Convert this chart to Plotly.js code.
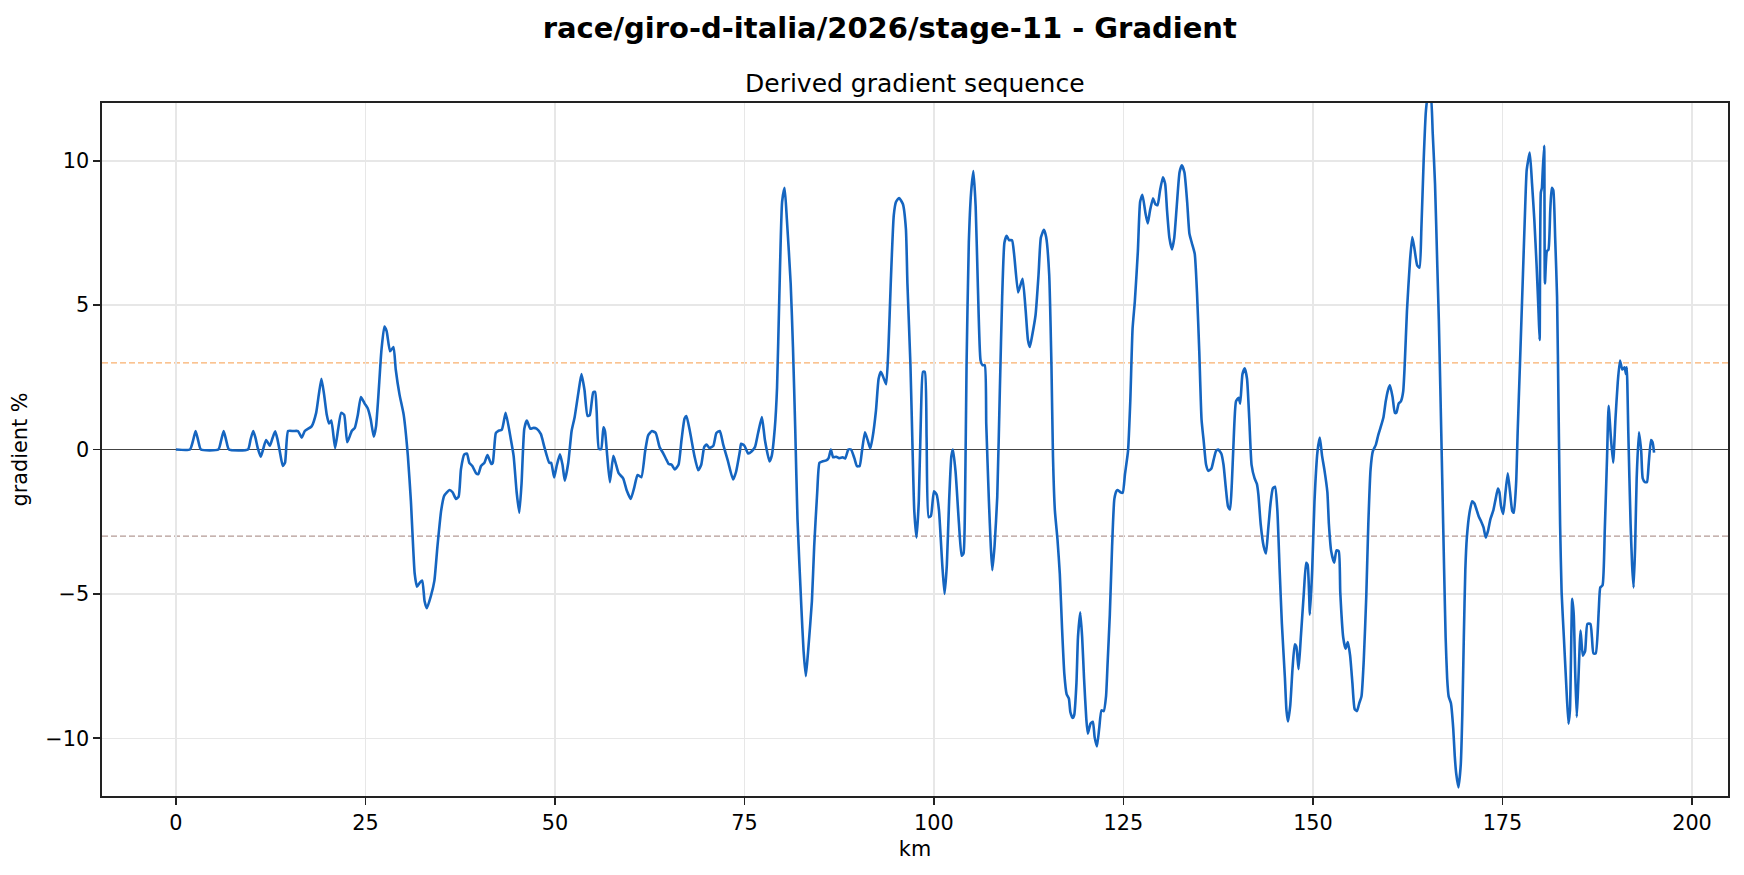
<!DOCTYPE html>
<html>
<head>
<meta charset="utf-8">
<script src="https://cdn.plot.ly/plotly-3.0.1.min.js"></script>
<style>html,body{margin:0;padding:0;background:#fff;}#chart{width:1744px;height:875px;}</style>
</head>
<body>
<div id="chart"></div>
<script>
// distance along stage (km)
const km = [
0,1.85,2.25,2.6,2.95,3.3,5.6,5.95,6.3,6.65,7.0,9.5,9.85,10.2,10.5,10.8,11.2,11.55,11.9,12.4,12.75,13.1,13.4,13.7,14.1,14.4,14.8,15.5,16.1,16.6,17.0,17.9,18.5,18.85,19.2,19.55,19.9,20.2,20.5,21.0,21.4,21.8,22.2,22.6,23.2,23.6,24.0,24.4,
24.9,25.3,25.7,26.1,26.4,26.7,27.1,27.5,27.8,28.25,28.7,29.0,29.5,30.05,30.6,31.0,31.5,31.8,32.2,32.5,32.8,33.1,33.65,34.1,34.5,35.0,35.4,36.1,36.5,36.95,37.3,37.6,38.05,38.4,38.7,39.1,39.6,39.9,40.25,40.7,41.1,41.6,41.8,42.2,42.5,43.0,43.5,44.2,44.55,44.95,45.3,45.6,45.96,46.3,46.75,47.2,47.6,48.15,48.6,49.25,
49.5,49.9,50.2,50.66,51.0,51.3,51.76,52.2,52.6,53.1,53.5,53.9,54.3,54.6,55.05,55.3,55.5,55.8,56.1,56.4,56.6,56.9,57.25,57.7,58.0,58.4,59.0,59.45,60.0,60.46,60.9,61.4,61.9,62.3,62.8,63.3,63.8,64.3,64.7,65.0,65.4,65.8,66.3,66.7,67.1,67.35,67.8,68.4,68.9,69.3,69.7,70.0,70.4,70.9,71.3,71.75,72.2,72.8,73.5,73.9,74.4,
74.56,75.0,75.5,75.97,76.4,76.8,77.3,77.7,78.3,78.6,79.0,79.3,79.6,79.97,80.3,80.6,81.1,81.4,81.7,82.0,82.5,82.8,83.1,83.4,83.9,84.2,84.6,84.9,85.3,85.8,86.1,86.4,86.7,87.1,87.5,87.96,88.3,88.7,89.06,89.5,89.85,90.2,90.5,90.9,91.25,91.6,91.9,92.35,92.7,93.0,93.4,93.7,94.0,94.3,94.7,95.0,95.4,95.9,96.3,96.5,96.9,97.2,97.4,97.7,98.0,98.3,98.55,98.8,
99.03,99.3,99.6,100.0,100.35,100.66,101.1,101.4,101.7,102.0,102.3,102.5,102.85,103.3,103.65,103.9,104.1,104.3,104.6,104.9,105.2,105.5,105.8,106.15,106.4,106.7,106.9,107.25,107.5,107.7,107.99,108.35,108.7,109.0,109.3,109.6,109.9,110.3,110.6,111.1,111.4,111.7,112.1,112.4,112.65,112.96,113.4,113.8,114.1,114.5,114.8,115.2,115.5,115.7,115.95,116.3,116.6,116.9,117.2,117.5,117.8,118.0,118.3,118.5,118.8,119.0,119.3,119.55,119.8,120.1,120.3,120.65,120.96,121.2,121.5,121.8,122.1,122.4,122.7,122.9,123.2,123.5,123.8,124.1,
124.25,124.6,124.9,125.2,125.6,125.9,126.2,126.5,126.9,127.2,127.5,127.9,128.2,128.5,128.9,129.2,129.5,129.8,130.2,130.5,130.75,131.06,131.4,131.7,132.03,132.4,132.7,133.04,133.4,133.7,134.0,134.4,134.7,135.0,135.3,135.6,135.9,136.2,136.6,136.9,137.2,137.5,137.9,138.2,138.5,138.8,139.06,139.3,139.5,139.85,140.2,140.4,140.7,141.0,141.3,141.6,141.9,142.3,142.6,142.8,143.1,143.5,143.8,144.1,144.4,144.7,145.0,145.3,145.6,145.9,146.3,146.5,146.7,147.0,147.3,147.6,147.8,148.1,148.4,148.8,149.1,149.3,149.6,149.9,
150.2,150.6,150.9,151.2,151.5,151.9,152.1,152.4,152.8,153.1,153.4,153.6,153.99,154.3,154.6,154.9,155.2,155.5,155.8,156.1,156.4,156.7,157.03,157.3,157.6,157.9,158.3,158.6,158.9,159.3,159.6,159.9,160.15,160.5,160.8,161.0,161.3,161.6,161.9,162.1,162.4,162.8,163.1,163.4,163.75,164.06,164.3,164.6,164.9,165.2,165.5,165.8,166.1,166.4,166.6,166.8,167.05,167.3,167.5,167.7,167.9,168.2,168.5,168.7,168.9,169.2,169.5,169.7,169.9,170.1,170.3,170.65,171.0,171.3,171.6,171.9,172.2,172.5,172.8,173.1,173.4,173.8,174.1,174.4,
174.6,174.8,175.1,175.4,175.7,176.0,176.3,176.5,176.8,177.0,177.3,177.7,178.0,178.2,178.6,178.9,179.2,179.5,179.75,179.9,180.06,180.2,180.3,180.5,180.6,180.85,181.07,181.3,181.5,181.7,181.95,182.2,182.4,182.6,182.8,183.1,183.4,183.7,183.9,184.2,184.4,184.6,184.8,185.0,185.3,185.6,185.9,186.2,186.6,186.8,187.0,187.3,187.7,187.9,188.2,188.5,188.8,189.0,189.3,189.6,189.9,190.2,190.5,190.8,191.1,191.3,191.4,191.6,191.9,192.1,192.3,192.5,192.7,193.0,193.3,193.5,193.8,194.06,194.3,194.6,194.8,195.0
];

// gradient (%)
const gradient = [
0,0,0.3,0.64,0.3,0,0,0.3,0.64,0.3,0,0,0.35,0.64,0.4,0.05,-0.25,0.05,0.33,0.13,0.4,0.63,0.35,-0.06,-0.57,-0.45,0.64,0.64,0.64,0.41,0.64,0.8,1.27,1.9,2.45,1.9,1.2,0.9,1.0,0.05,0.7,1.27,1.2,0.25,0.64,0.75,1.2,1.82,
1.59,1.43,1.04,0.44,0.8,1.82,3.4,4.26,4.1,3.4,3.55,2.77,1.9,1.2,-0.22,-1.79,-4.3,-4.75,-4.6,-4.54,-5.25,-5.5,-5.06,-4.54,-3.36,-2.1,-1.6,-1.4,-1.48,-1.71,-1.63,-0.69,-0.17,-0.14,-0.46,-0.57,-0.82,-0.85,-0.57,-0.46,-0.19,-0.5,-0.46,0.57,0.64,0.69,1.27,0.33,-0.22,-1.48,-2.19,-1.16,0.72,1.0,0.72,0.75,0.72,0.53,0.09,-0.46,
-0.46,-0.97,-0.6,-0.17,-0.53,-1.08,-0.46,0.64,1.12,1.98,2.61,2.06,1.16,1.19,1.98,2.0,1.35,0.02,0.02,0.77,0.64,-0.22,-1.13,-0.22,-0.46,-0.82,-1.0,-1.4,-1.71,-1.32,-0.88,-0.96,-0.06,0.49,0.64,0.57,0.09,-0.14,-0.35,-0.5,-0.53,-0.69,-0.53,0.33,1.07,1.16,0.64,-0.22,-0.72,-0.53,0.09,0.17,0.05,0.13,0.57,0.64,0.17,-0.38,-1.04,-0.77,-0.06,
0.2,0.13,-0.14,-0.06,0.09,0.57,1.12,0.33,-0.41,-0.22,0.72,2.14,5.28,8.58,9.06,7.96,5.75,3.55,0.72,-2.42,-5.41,-6.98,-7.85,-6.98,-5.25,-3.36,-1.48,-0.46,-0.41,-0.38,-0.3,0.0,-0.27,-0.25,-0.3,-0.27,-0.31,0.0,0.0,-0.3,-0.58,-0.57,-0.06,0.6,0.33,0.03,0.41,1.35,2.45,2.69,2.45,2.26,3.55,5.75,8.11,8.58,8.71,8.5,7.64,5.75,2.92,-0.22,-2.1,-3.05,-1.79,1.35,2.69,2.69,
0.4,-2.34,-2.3,-1.45,-1.56,-2.1,-4.0,-5.0,-4.0,-1.79,-0.22,0.0,-0.77,-2.58,-3.68,-3.6,-1.79,2.92,7.17,8.9,9.64,8.43,5.6,3.08,2.92,2.92,0.88,-1.79,-3.36,-4.18,-3.36,-1.64,2.14,5.28,7.17,7.4,7.25,7.25,6.7,5.44,5.68,5.91,4.81,3.79,3.55,3.95,4.65,6.07,7.33,7.61,7.36,6.07,2.92,-0.22,-2.1,-3.13,-4.3,-6.2,-7.77,-8.47,-8.63,-9.1,-9.3,-9.2,-8.08,-6.5,-5.64,-6.5,-7.92,-9.34,-9.84,-9.5,-9.43,-9.97,-10.28,-9.66,-9.03,-9.06,-8.55,-7.45,-5.72,-3.36,-1.71,-1.43,
-1.4,-1.48,-1.5,-0.85,-0.06,1.67,4.18,5.13,6.86,8.58,8.82,8.19,7.83,8.27,8.7,8.5,8.46,8.93,9.43,9.2,8.27,7.33,6.93,7.33,8.43,9.6,9.84,9.6,8.58,7.48,7.17,6.78,5.44,3.4,1.04,0.25,-0.53,-0.74,-0.66,-0.35,-0.06,0.0,-0.14,-0.53,-1.32,-1.98,-2.08,-1.16,0.09,1.67,1.79,1.59,2.61,2.81,2.45,1.04,-0.53,-1.0,-1.19,-1.56,-2.58,-3.36,-3.6,-2.74,-1.87,-1.35,-1.29,-2.1,-4.15,-6.04,-7.92,-9.03,-9.42,-8.87,-7.6,-6.75,-6.82,-7.61,-6.5,-4.94,-3.92,-4.0,-5.72,-4.15,
-1.79,-0.06,0.41,-0.22,-0.69,-1.48,-2.58,-3.52,-3.92,-3.49,-3.52,-4.94,-6.51,-6.9,-6.67,-7.14,-8.08,-8.99,-9.06,-8.79,-8.55,-7.3,-5.09,-2.58,-0.69,-0.06,0.17,0.49,0.75,1.12,1.67,2.06,2.22,1.82,1.27,1.27,1.59,1.67,2.01,2.92,4.81,6.54,7.36,6.93,6.38,6.3,7.64,10.0,11.73,12.3,12.3,10.94,9.2,6.38,4.5,2.14,-1.0,-4.15,-6.5,-7.92,-8.55,-8.79,-9.65,-10.6,-11.23,-11.7,-10.9,-9.18,-6.5,-4.15,-3.05,-2.19,-1.79,-1.87,-2.1,-2.34,-2.5,-2.7,-3.05,-2.81,-2.42,-2.1,-1.71,-1.35,
-1.48,-1.95,-2.23,-1.48,-0.82,-1.48,-2.14,-2.19,-1.16,0.57,2.92,6.07,8.43,9.69,10.28,9.2,7.96,6.38,4.81,3.79,8.9,9.06,9.6,10.52,5.75,6.86,6.93,8.27,9.06,8.98,7.33,5.28,1.35,-2.58,-4.94,-6.51,-8.08,-9.5,-9.03,-5.17,-5.72,-7.77,-9.26,-8.08,-6.27,-7.14,-6.98,-6.04,-6.04,-6.51,-7.06,-7.06,-5.57,-4.78,-4.7,-2.74,-0.22,1.51,0.41,-0.46,1.04,2.3,3.08,2.77,2.85,2.61,2.85,0.57,-2.58,-4.0,-4.78,-3.36,-1.01,0.6,-0.06,-1.0,-1.13,-1.13,-0.46,0.33,0.25,-0.11
];

const xTicks = [0, 25, 50, 75, 100, 125, 150, 175, 200];
const yTicks = [-10, -5, 0, 5, 10];
const steepUp = 3;
const steepDown = -3;

const font = "DejaVu Sans, Liberation Sans, sans-serif";

const trace = {
  x: km, y: gradient, type: "scatter", mode: "lines",
  line: {color: "#1565c0", width: 2.6, shape: "spline", smoothing: 0.5},
  hoverinfo: "skip", showlegend: false
};

function hline(y, color, width, dash) {
  return {type: "line", xref: "paper", x0: 0, x1: 1, yref: "y", y0: y, y1: y,
          line: {color: color, width: width, dash: dash}, layer: "between"};
}

const axisCommon = {
  showline: true, linecolor: "#222", linewidth: 1.7, mirror: true,
  ticks: "outside", ticklen: 7, tickwidth: 1.6, tickcolor: "#222",
  showgrid: true, gridcolor: "#e7e7e7", gridwidth: 1.5,
  zeroline: false,
  tickfont: {family: font, size: 20.8, color: "#000"}
};

const layout = {
  width: 1744, height: 875,
  paper_bgcolor: "#fff", plot_bgcolor: "#fff",
  margin: {l: 102, r: 15.5, t: 103.4, b: 78.7, autoexpand: false},
  font: {family: font, color: "#000"},
  title: {
    text: "<b>race/giro-d-italia/2026/stage-11 - Gradient</b>",
    font: {family: font, size: 29, color: "#000"},
    xref: "container", x: 889.8 / 1744, xanchor: "center",
    yref: "container", y: 1 - 28 / 875, yanchor: "middle"
  },
  xaxis: Object.assign({}, axisCommon, {
    range: [-9.75, 204.75], tickvals: xTicks, ticktext: xTicks.map(String),
    title: {text: "km", font: {family: font, size: 20.8, color: "#000"}, standoff: 8}
  }),
  yaxis: Object.assign({}, axisCommon, {
    range: [-12, 12], tickvals: yTicks,
    zeroline: true, zerolinecolor: "#444", zerolinewidth: 1.6,
    title: {text: "gradient %", font: {family: font, size: 20.8, color: "#000"}, standoff: 12}
  }),
  shapes: [
    hline(steepUp, "#f9b06e", 1.4, "6px,3px"),
    hline(steepDown, "#b49a95", 1.4, "6px,3px")
  ],
  annotations: [{
    text: "Derived gradient sequence", showarrow: false,
    xref: "paper", x: 0.5, xanchor: "center",
    yref: "paper", y: 1 + (103.4 - 84) / 692.9, yanchor: "middle",
    font: {family: font, size: 25, color: "#000"}
  }]
};

Plotly.newPlot("chart", [trace], layout, {staticPlot: true, displayModeBar: false});
</script>
</body>
</html>
